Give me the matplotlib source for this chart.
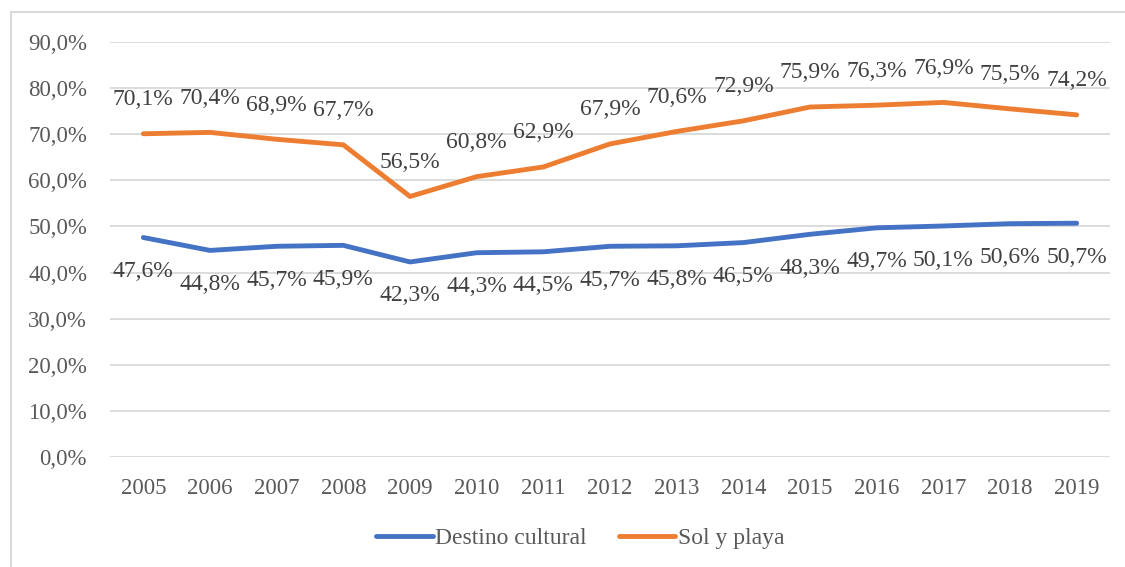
import matplotlib
matplotlib.use("Agg")
import matplotlib.pyplot as plt
from matplotlib.patches import Rectangle

years = list(range(2005, 2020))
destino_cultural = [47.6, 44.8, 45.7, 45.9, 42.3, 44.3, 44.5, 45.7, 45.8, 46.5, 48.3, 49.7, 50.1, 50.6, 50.7]
sol_y_playa = [70.1, 70.4, 68.9, 67.7, 56.5, 60.8, 62.9, 67.9, 70.6, 72.9, 75.9, 76.3, 76.9, 75.5, 74.2]
yticks = [0, 10, 20, 30, 40, 50, 60, 70, 80, 90]

plt.rcParams['font.family'] = ['Liberation Serif', 'DejaVu Serif']

def pct(v, dec=1):
    return f"{v:.{dec}f}%".replace(".", ",")

fig = plt.figure(figsize=(11.25, 5.67), dpi=100)
# light border frame like the Excel chart area
fig.patches.append(Rectangle((11 / 1125, -0.1), 1.2, 1.1 - 12 / 567,
                             transform=fig.transFigure, fill=False,
                             edgecolor="#D9D9D9", lw=1.5))

ax = fig.add_axes([110 / 1125, 1 - 457 / 567, 1000 / 1125, 415 / 567])
ax.plot(years, destino_cultural, color="#4472C4", lw=3.5, solid_capstyle="round",
        label="Destino cultural")
ax.plot(years, sol_y_playa, color="#ED7D31", lw=3.5, solid_capstyle="round",
        label="Sol y playa")

for x, v in zip(years, sol_y_playa):
    ax.annotate(pct(v), (x, v), xytext=(0, 24.5), textcoords="offset points",
                ha="center", va="center", fontsize=17, color="#404040")
for x, v in zip(years, destino_cultural):
    ax.annotate(pct(v), (x, v), xytext=(0, -24.5), textcoords="offset points",
                ha="center", va="center", fontsize=17, color="#404040")

ax.set_xlim(2004.5, 2019.5)
ax.set_ylim(0, 90)
ax.set_yticks(yticks)
ax.set_yticklabels([pct(t) for t in yticks])
ax.set_xticks(years)
ax.set_xticklabels([str(y) for y in years])
ax.tick_params(axis="both", length=0, labelsize=16.5, colors="#595959")
ax.tick_params(axis="x", pad=15)
ax.tick_params(axis="y", pad=16.5)
ax.grid(axis="y", color="#D9D9D9", lw=1.3)
ax.set_axisbelow(True)
for s in ax.spines.values():
    s.set_visible(False)

fig.legend(loc="center", bbox_to_anchor=(580 / 1125, 1 - 538 / 567), ncol=2,
           frameon=False, fontsize=17, handlelength=2.4, columnspacing=1.35,
           handletextpad=0.1, labelcolor="#595959")

fig.savefig("out.png", dpi=100)
